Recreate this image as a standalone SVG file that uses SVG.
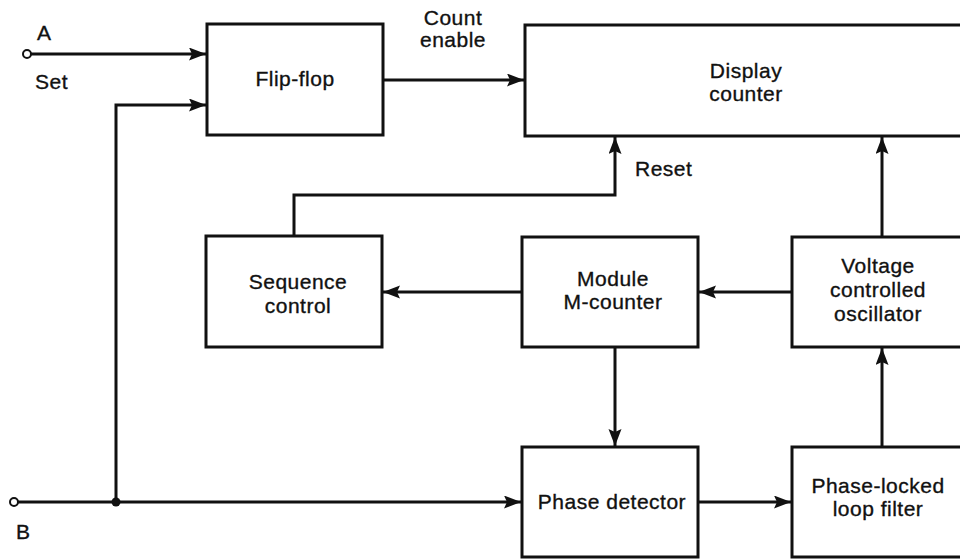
<svg xmlns="http://www.w3.org/2000/svg" width="960" height="560" viewBox="0 0 960 560">
  <style>
    .box { fill: #ffffff; stroke: #111111; stroke-width: 3; }
    .wire { fill: none; stroke: #111111; stroke-width: 3; }
    .arrow { marker-end: url(#head); }
    text { font-family: "Liberation Sans", Arial, Helvetica, sans-serif; font-size: 21px; letter-spacing: 0.5px; fill: #111111; stroke: #111111; stroke-width: 0.35px; }
    .c { text-anchor: middle; }
  </style>
  <defs>
    <marker id="head" markerUnits="userSpaceOnUse" markerWidth="19" markerHeight="14" refX="17" refY="6.5" orient="auto">
      <path d="M0,0 L17,6.5 L0,13 L3,6.5 z" fill="#111111"/>
    </marker>
  </defs>
  <rect width="960" height="560" fill="#ffffff"/>

  <!-- connectors -->
  <g id="connectors">
    <!-- input A (set) -->
    <path class="wire arrow" d="M31,54 H206"/>
    <circle cx="27" cy="54" r="4" fill="#ffffff" stroke="#111111" stroke-width="2"/>
    <!-- input B with branch to flip-flop -->
    <path class="wire arrow" d="M18,502 H521"/>
    <circle cx="14" cy="502" r="4" fill="#ffffff" stroke="#111111" stroke-width="2"/>
    <path class="wire arrow" d="M116,502 V105 H206"/>
    <circle cx="116" cy="502" r="4.5" fill="#111111"/>
    <!-- count enable -->
    <path class="wire arrow" d="M383,80 H524"/>
    <!-- reset -->
    <path class="wire arrow" d="M294,236 V195 H615 V137"/>
    <!-- VCO to display counter -->
    <path class="wire arrow" d="M882,237 V137"/>
    <!-- VCO to M-counter -->
    <path class="wire arrow" d="M792,292 H699"/>
    <!-- M-counter to sequence control -->
    <path class="wire arrow" d="M522,292 H383"/>
    <!-- M-counter to phase detector -->
    <path class="wire arrow" d="M615,347 V446"/>
    <!-- phase detector to loop filter -->
    <path class="wire arrow" d="M698,502 H791"/>
    <!-- loop filter to VCO -->
    <path class="wire arrow" d="M882,447 V348"/>
  </g>

  <!-- free labels -->
  <g id="labels">
    <text x="37" y="40">A</text>
    <text x="35" y="89">Set</text>
    <text x="16" y="539">B</text>
    <text class="c" x="453" y="25">Count</text>
    <text class="c" x="453" y="47">enable</text>
    <text x="635" y="176">Reset</text>
  </g>

  <g id="flip-flop">
    <rect class="box" x="207" y="24" width="176" height="111"/>
    <text class="c" x="295" y="86">Flip-flop</text>
  </g>

  <g id="display-counter">
    <rect class="box" x="525" y="25" width="445" height="111"/>
    <text class="c" x="746" y="78">Display</text>
    <text class="c" x="746" y="101">counter</text>
  </g>

  <g id="sequence-control">
    <rect class="box" x="206" y="236" width="176" height="111"/>
    <text class="c" x="298" y="289">Sequence</text>
    <text class="c" x="298" y="313">control</text>
  </g>

  <g id="m-counter">
    <rect class="box" x="522" y="237" width="176" height="110"/>
    <text class="c" x="613" y="286">Module</text>
    <text class="c" x="613" y="309">M-counter</text>
  </g>

  <g id="vco">
    <rect class="box" x="792" y="237" width="180" height="110"/>
    <text class="c" x="878" y="273">Voltage</text>
    <text class="c" x="878" y="297">controlled</text>
    <text class="c" x="878" y="321">oscillator</text>
  </g>

  <g id="phase-detector">
    <rect class="box" x="522" y="447" width="176" height="110"/>
    <text class="c" x="612" y="509">Phase detector</text>
  </g>

  <g id="loop-filter">
    <rect class="box" x="792" y="447" width="180" height="110"/>
    <text class="c" x="878" y="493">Phase-locked</text>
    <text class="c" x="878" y="516">loop filter</text>
  </g>
</svg>
